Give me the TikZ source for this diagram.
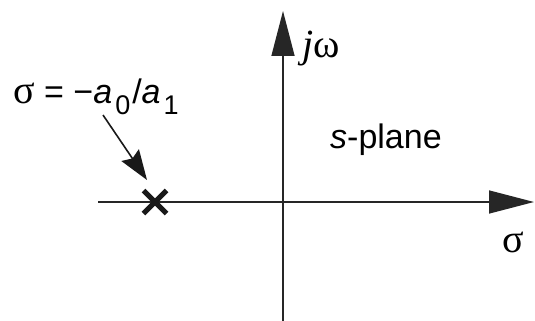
\documentclass[tikz,border=0pt]{standalone}
\usepackage{fontspec}
\setmainfont{Liberation Sans}
\newfontfamily\grk{Liberation Serif}
\newcommand{\gbig}{\fontsize{40}{44}\selectfont\grk}
\usetikzlibrary{arrows.meta,shapes.misc}
\begin{document}
\begin{tikzpicture}[x=1pt,y=-1pt,
  axis/.style={line width=1.5pt, draw=black!85, -{Triangle[length=45pt,width=23pt]}},
  ptr/.style={line width=1.6pt, draw=black!90, -{Stealth[length=30pt,width=21pt,inset=4pt]}},
  lbl/.style={inner sep=0pt, anchor=base west, font=\fontsize{34}{38}\selectfont},
  polemark/.style={cross out, draw=black!90, line width=5pt, minimum size=18pt, inner sep=0pt}]
\useasboundingbox (0,0) rectangle (535,321);
\coordinate (vb) at (283,321);
\coordinate (vt) at (283,11);
\coordinate (hl) at (98,202);
\coordinate (hr) at (534,202);
\draw[axis] (vb) -- (vt);
\draw[axis] (hl) -- (hr);
\node[lbl] (jw) at (302,58) {{\gbig\itshape j}{\gbig ω}};
\node[lbl] (sp) at (330,148) {\textit{s}-plane};
\node[lbl,anchor=base] (sig) at (513,252) {\gbig σ};
\node[lbl] (polelbl) at (13,103) {{\gbig σ} = −\textit{a}\kern3pt\raisebox{-0.33em}{\fontsize{27}{30}\selectfont 0}\kern2pt/\textit{a}\kern3pt\raisebox{-0.33em}{\fontsize{27}{30}\selectfont 1}};
\node[polemark] (pole) at (155,202) {};
\coordinate (ps) at (103,115);
\coordinate (pt) at (147,180);
\draw[ptr] (ps) -- (pt);
\end{tikzpicture}
\end{document}
